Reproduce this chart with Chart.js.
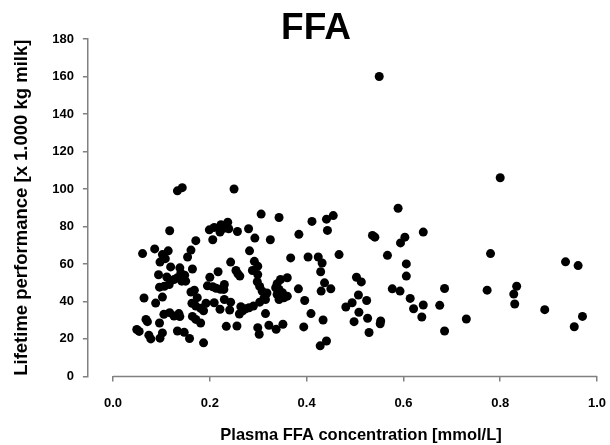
<!DOCTYPE html>
<html>
<head>
<meta charset="utf-8">
<script src="https://cdn.jsdelivr.net/npm/chart.js@4/dist/chart.umd.min.js"></script>
<style>
  html, body { margin: 0; padding: 0; background: #ffffff; }
  #wrap { width: 610px; height: 445px; }
</style>
</head>
<body>
<div id="wrap"><canvas id="c" width="610" height="445"></canvas></div>
<script>
const chartTitle = "FFA";
const xAxisTitle = "Plasma FFA concentration [mmol/L]";
const yAxisTitle = "Lifetime performance [x 1.000 kg milk]";
const xTickValues = [0, 0.2, 0.4, 0.6, 0.8, 1.0];
const yTickStep = 20;

const ffaValues = [
  0.133,0.143,0.250,0.117,0.061,0.086,0.114,0.102,0.108,0.097,
  0.171,0.161,0.154,0.119,0.094,0.111,0.138,0.164,0.140,0.148,
  0.133,0.126,0.150,0.142,0.096,0.106,0.116,0.064,0.102,0.088,
  0.161,0.168,0.174,0.163,0.171,0.181,0.192,0.187,0.117,0.105,
  0.126,0.136,0.138,0.164,0.171,0.181,0.049,0.054,0.068,0.071,
  0.096,0.074,0.078,0.097,0.102,0.133,0.147,0.158,0.187,0.199,
  0.209,0.223,0.230,0.237,0.239,0.221,0.206,0.257,0.280,0.293,
  0.282,0.243,0.292,0.299,0.254,0.258,0.262,0.288,0.299,0.200,
  0.217,0.195,0.206,0.213,0.222,0.230,0.229,0.209,0.230,0.221,
  0.243,0.241,0.264,0.268,0.261,0.274,0.281,0.234,0.256,0.290,
  0.303,0.303,0.299,0.302,0.306,0.343,0.325,0.384,0.411,0.441,
  0.455,0.443,0.367,0.403,0.424,0.432,0.467,0.429,0.437,0.430,
  0.450,0.360,0.346,0.339,0.336,0.343,0.350,0.339,0.353,0.343,
  0.360,0.308,0.312,0.315,0.383,0.396,0.409,0.394,0.434,0.428,
  0.441,0.315,0.322,0.337,0.351,0.503,0.513,0.507,0.494,0.481,
  0.524,0.508,0.498,0.526,0.529,0.553,0.552,0.536,0.541,0.589,
  0.594,0.603,0.641,0.567,0.606,0.606,0.577,0.593,0.614,0.621,
  0.641,0.638,0.675,0.685,0.685,0.730,0.773,0.780,0.800,0.828,
  0.834,0.830,0.892,0.935,0.961,0.953,0.970,0.550,0.298,0.318
];
const performanceValues = [
  99.0,100.7,100.0,77.7,65.5,68.0,67.0,65.0,62.8,61.0,
  72.4,67.4,63.7,58.4,54.2,53.0,57.9,57.3,55.2,54.0,
  52.6,51.7,50.8,50.8,47.6,48.1,49.0,41.8,42.3,39.1,
  45.0,46.0,42.0,39.0,37.5,36.3,39.0,35.0,34.0,33.1,
  32.2,33.5,31.9,32.0,30.4,28.5,25.0,24.0,30.4,29.2,
  28.5,22.0,20.0,20.4,23.2,24.2,23.5,20.2,17.9,78.2,
  79.5,80.9,79.1,82.3,78.8,77.0,72.9,77.3,78.8,73.8,
  67.0,61.0,61.4,58.8,56.5,54.7,53.5,56.5,54.3,52.9,
  55.8,48.3,47.8,47.0,46.5,49.0,46.4,39.3,41.0,35.8,
  39.6,35.4,37.2,35.0,33.3,36.1,36.6,26.7,26.9,37.5,
  39.6,48.0,26.0,22.5,86.6,84.8,72.9,75.8,82.7,83.9,
  85.8,77.9,63.2,63.7,63.7,60.5,65.0,55.8,49.9,45.5,
  46.7,52.6,51.7,49.4,47.3,46.4,44.6,43.7,41.9,41.0,
  42.8,45.5,41.9,41.0,46.7,40.5,33.5,26.4,30.1,16.3,
  18.9,33.5,27.3,25.1,27.8,52.9,50.4,43.4,39.3,37.0,
  40.5,34.2,29.2,31.0,23.4,29.6,28.1,75.2,74.3,89.7,
  71.2,74.3,77.0,64.6,60.0,53.5,46.7,45.5,41.6,36.1,
  38.1,31.7,37.9,46.9,24.2,30.6,46.0,65.5,106.0,43.9,
  48.1,38.6,35.6,61.1,59.1,26.5,32.0,160.0,50.5,44.5
];

const points = ffaValues.map((x, i) => ({ x: x, y: performanceValues[i] }));

const axisGray = '#808080';
const tickFont = { family: "'Liberation Sans', Arial, sans-serif", size: 13, weight: 'bold' };
const yTitleFont = { family: "'Liberation Sans', Arial, sans-serif", size: 18.5, weight: 'bold' };

const detachedXAxis = {
  id: 'detachedXAxis',
  beforeDatasetsDraw(chart) {
    const xs = chart.scales.x;
    const ctx = chart.ctx;
    const y = chart.chartArea.bottom;
    ctx.save();
    ctx.strokeStyle = axisGray;
    ctx.lineWidth = 1.5;
    ctx.beginPath();
    ctx.moveTo(xs.getPixelForValue(xTickValues[0]), y);
    ctx.lineTo(xs.getPixelForValue(xTickValues[xTickValues.length - 1]), y);
    ctx.stroke();
    ctx.restore();
  }
};

const overlayTexts = {
  id: 'overlayTexts',
  afterDraw(chart) {
    const ctx = chart.ctx;
    const xs = chart.scales.x;
    ctx.save();
    ctx.fillStyle = '#000';
    ctx.textAlign = 'center';
    ctx.textBaseline = 'middle';
    ctx.font = "bold 37px 'Liberation Sans Narrow', 'Liberation Sans', Arial, sans-serif";
    ctx.fillText(chartTitle, 316, 29);
    ctx.font = "bold 16.5px 'Liberation Sans', Arial, sans-serif";
    const mid = (xs.getPixelForValue(xTickValues[0]) + xs.getPixelForValue(xTickValues[xTickValues.length - 1])) / 2;
    ctx.fillText(xAxisTitle, mid + 6, 435);
    ctx.restore();
  }
};

new Chart(document.getElementById('c'), {
  type: 'scatter',
  data: {
    datasets: [{
      data: points,
      backgroundColor: '#000',
      borderWidth: 0,
      pointRadius: 4.5,
      pointHoverRadius: 4.5
    }]
  },
  options: {
    responsive: false,
    devicePixelRatio: 1,
    animation: false,
    layout: { padding: { top: 39, right: 0, bottom: 20, left: 6 } },
    plugins: { legend: { display: false }, tooltip: { enabled: false }, title: { display: false } },
    scales: {
      x: {
        type: 'linear',
        min: -0.052,
        max: 1.0,
        afterBuildTicks(scale) { scale.ticks = xTickValues.map(v => ({ value: v })); },
        afterFit(scale) { scale.paddingRight = 13; scale.paddingLeft = 0; },
        ticks: {
          color: '#000', font: tickFont, padding: 14, maxRotation: 0,
          callback: v => Number(v).toFixed(1)
        },
        grid: { drawOnChartArea: false, drawTicks: true, tickLength: 5, color: axisGray, lineWidth: 1.5 },
        border: { display: false },
        title: { display: false }
      },
      y: {
        type: 'linear',
        min: 0,
        max: 180,
        ticks: { stepSize: yTickStep, color: '#000', font: tickFont, padding: 9 },
        grid: { drawOnChartArea: false, drawTicks: true, tickLength: 5, color: axisGray, lineWidth: 1.5 },
        border: { display: true, color: axisGray, width: 1.5 },
        title: { display: true, text: yAxisTitle, color: '#000', font: yTitleFont, padding: { top: 5, bottom: 10 } }
      }
    }
  },
  plugins: [detachedXAxis, overlayTexts]
});
</script>
</body>
</html>
